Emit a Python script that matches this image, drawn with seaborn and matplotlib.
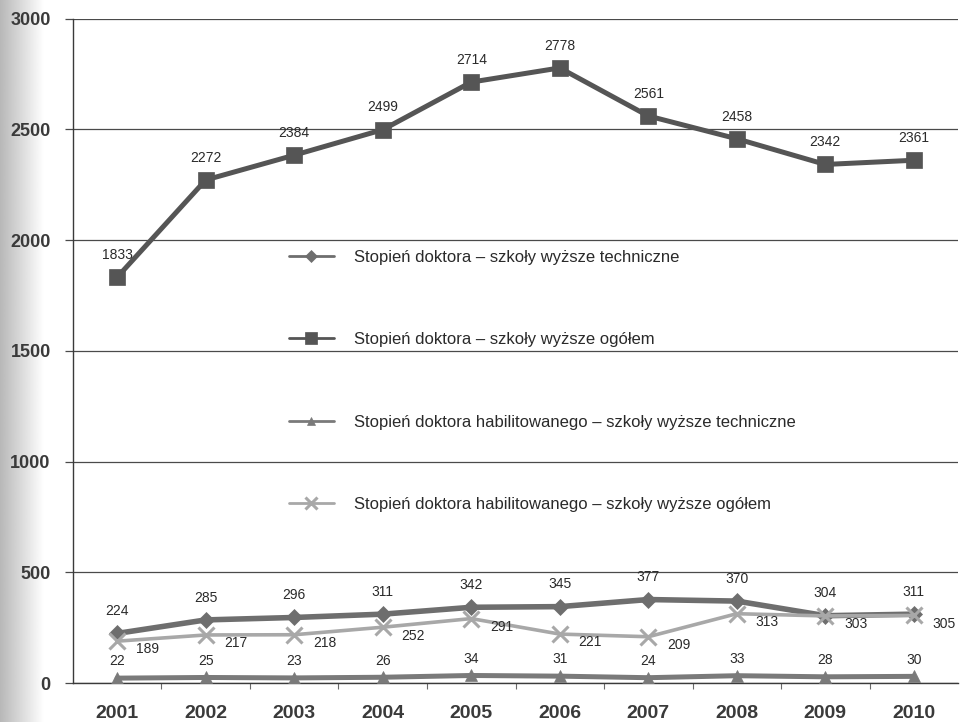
import numpy as np
import pandas as pd
import matplotlib
matplotlib.use("Agg")
import matplotlib.pyplot as plt
import seaborn as sns

years = ["2001", "2002", "2003", "2004", "2005", "2006", "2007", "2008", "2009", "2010"]

dr_tech = [224, 285, 296, 311, 342, 345, 377, 370, 304, 311]
dr_all = [1833, 2272, 2384, 2499, 2714, 2778, 2561, 2458, 2342, 2361]
hab_tech = [22, 25, 23, 26, 34, 31, 24, 33, 28, 30]
hab_all = [189, 217, 218, 252, 291, 221, 209, 313, 303, 305]

names = [
    "Stopień doktora – szkoły wyższe techniczne",
    "Stopień doktora – szkoły wyższe ogółem",
    "Stopień doktora habilitowanego – szkoły wyższe techniczne",
    "Stopień doktora habilitowanego – szkoły wyższe ogółem",
]

sns.set_theme(style="white")
plt.rcParams["font.family"] = ["Liberation Sans", "DejaVu Sans"]

fig = plt.figure(figsize=(9.6, 7.22), dpi=100)

# soft shadow along the left margin
shade = fig.add_axes([0, 0, 0.045, 1], zorder=-5)
grad = np.linspace(0.72, 1.0, 200)[None, :]
shade.imshow(grad, aspect="auto", cmap="gray", vmin=0, vmax=1, extent=[0, 1, 0, 1])
shade.set_axis_off()

ax = fig.add_axes([0.076, 0.054, 0.922, 0.920])
ax.set_facecolor("none")

x = np.arange(len(years))

# style per series: colour, marker, marker size, line width
styles = [
    dict(color="#6e6e6e", marker="D", ms=8, lw=4.0),
    dict(color="#555555", marker="s", ms=11, lw=3.6),
    dict(color="#7a7a7a", marker="^", ms=8, lw=3.6),
    dict(color="#a8a8a8", marker="x", ms=11, lw=2.6),
]
series = [dr_tech, dr_all, hab_tech, hab_all]

for name, vals, st in zip(names, series, styles):
    df = pd.DataFrame({"x": x, "y": vals})
    sns.lineplot(data=df, x="x", y="y", ax=ax, color=st["color"], marker=st["marker"],
                 markersize=st["ms"], linewidth=st["lw"], markeredgecolor=st["color"],
                 markeredgewidth=2.2 if st["marker"] == "x" else 0.5, label=name,
                 zorder=3)

# value labels
lab_kw = dict(fontsize=10, color="#2a2a2a", zorder=5)
for xi, v in zip(x, dr_all):
    ax.annotate(f"{v}", (xi, v), xytext=(0, 16), textcoords="offset points",
                ha="center", va="center", **lab_kw)
for xi, v in zip(x, dr_tech):
    ax.annotate(f"{v}", (xi, v), xytext=(0, 16), textcoords="offset points",
                ha="center", va="center", **lab_kw)
for xi, v in zip(x, hab_tech):
    ax.annotate(f"{v}", (xi, v), xytext=(0, 12), textcoords="offset points",
                ha="center", va="center", **lab_kw)
for xi, v in zip(x, hab_all):
    ax.annotate(f"{v}", (xi, v), xytext=(22, -6), textcoords="offset points",
                ha="center", va="center", **lab_kw)

ax.set_xlim(-0.5, 9.5)
ax.set_ylim(0, 3000)
ax.set_yticks(np.arange(0, 3001, 500))
ax.set_xticks(x)
ax.set_xticklabels(years)
ax.set_xticks(np.arange(0.5, 9.5, 1), minor=True)
ax.set_xlabel("")
ax.set_ylabel("")

ax.grid(axis="y", color="#4a4a4a", linewidth=0.9)
ax.grid(axis="x", visible=False)
for side in ["top", "right"]:
    ax.spines[side].set_visible(False)
for side in ["left", "bottom"]:
    ax.spines[side].set_visible(True)
    ax.spines[side].set_color("#3a3a3a")
    ax.spines[side].set_linewidth(1.0)

ax.tick_params(axis="y", which="major", length=6, width=0.9, color="#4a4a4a", pad=10,
               labelsize=13, labelcolor="#3a3a3a", left=True)
ax.tick_params(axis="x", which="major", length=0, pad=16, labelsize=14, labelcolor="#3a3a3a")
ax.tick_params(axis="x", which="minor", length=4, width=0.8, color="#6a6a6a", bottom=True)
for t in ax.get_xticklabels() + ax.get_yticklabels():
    t.set_fontweight("bold")

leg = ax.legend(loc="upper left", bbox_to_anchor=(0.227, 0.675), frameon=False,
                prop={"size": 12}, labelspacing=4.05,
                handlelength=2.7, handletextpad=1.2, markerscale=0.75)
for t in leg.get_texts():
    t.set_color("#2a2a2a")
for ln in leg.get_lines():
    ln.set_linewidth(2.0)

fig.savefig("out.png", dpi=100)
